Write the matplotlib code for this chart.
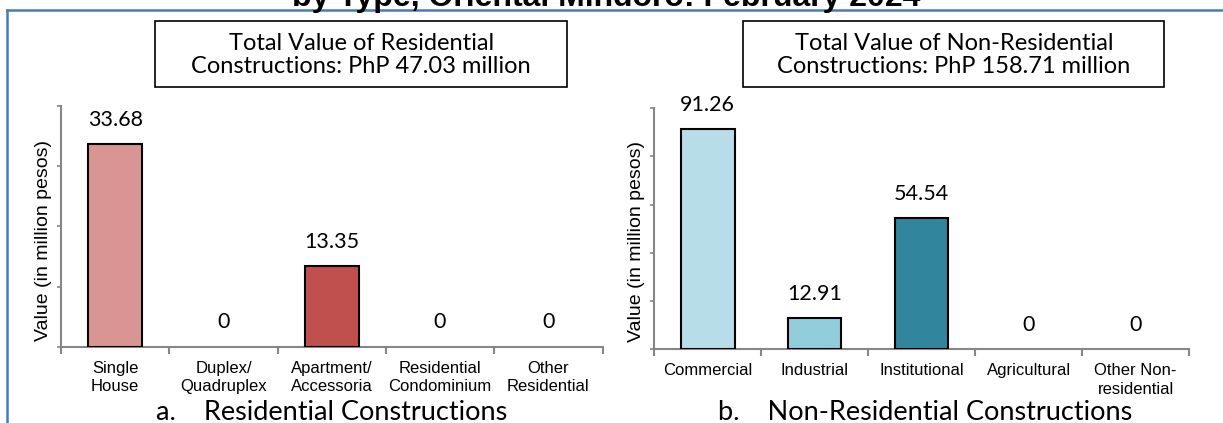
import matplotlib
matplotlib.use("Agg")
import matplotlib.pyplot as plt
from matplotlib.patches import Rectangle
from matplotlib.lines import Line2D

# residential data
res_types = ["Single\nHouse", "Duplex/\nQuadruplex", "Apartment/\nAccessoria",
             "Residential\nCondominium", "Other\nResidential"]
res_values = [33.68, 0, 13.35, 0, 0]
res_colors = ["#d99594", "#d99594", "#c0504d", "#c0504d", "#c0504d"]

# non-residential data
nonres_types = ["Commercial", "Industrial", "Institutional", "Agricultural",
                "Other Non-\nresidential"]
nonres_values = [91.26, 12.91, 54.54, 0, 0]
nonres_colors = ["#b7dde8", "#92cddc", "#31859c", "#31859c", "#31859c"]

res_total = "Total Value of Residential\nConstructions: PhP 47.03 million"
nonres_total = "Total Value of Non-Residential\nConstructions: PhP 158.71 million"

W, H = 1223, 423
fig = plt.figure(figsize=(W / 100, H / 100), dpi=100)

CAL = "Lato"
ARI = "Liberation Sans"


def px(x, y):
    # pixel position -> figure fraction
    return x / W, 1 - y / H


def draw_panel(rect, cats, vals, colors, ymax, step, total, box, sub, subx, ylab_pos):
    ax = fig.add_axes(rect)
    x = range(len(cats))
    edges = ["black" if v > 0 else "none" for v in vals]
    ax.bar(x, vals, width=0.5, color=colors, edgecolor=edges, linewidth=1.5, zorder=3)
    for i, v in zip(x, vals):
        ax.annotate(f"{v:g}" if v == 0 else f"{v:.2f}", (i, v), xytext=(0, 17.5),
                    textcoords="offset points", ha="center", va="center",
                    fontsize=15.5, family=CAL)
    ax.set_xlim(-0.5, len(cats) - 0.5)
    ax.set_ylim(0, ymax)
    ax.set_yticks(range(0, ymax + 1, step))
    ax.set_yticklabels([])
    ax.set_xticks(list(x))
    ax.set_xticklabels(cats, fontsize=12, family=ARI, linespacing=1.3)
    ax.set_xticks([i - 0.5 for i in range(len(cats) + 1)], minor=True)
    ax.tick_params(axis="x", which="major", length=0, pad=10)
    ax.tick_params(axis="x", which="minor", length=5, width=1.5, color="#868686")
    ax.tick_params(axis="y", length=3, width=1.2, color="#868686")
    for s in ["top", "right"]:
        ax.spines[s].set_visible(False)
    for s in ["left", "bottom"]:
        ax.spines[s].set_color("#868686")
        ax.spines[s].set_linewidth(1.5)
    ax.set_ylabel("Value (in million pesos)", fontsize=14, family=ARI, va="center")
    ax.yaxis.set_label_coords(*ylab_pos)

    # total value box
    x0, y0, x1, y1 = box
    fx0, fy1 = px(x0, y0)
    fx1, fy0 = px(x1, y1)
    fig.patches.append(Rectangle((fx0, fy0), fx1 - fx0, fy1 - fy0, transform=fig.transFigure,
                                 fill=False, edgecolor="black", linewidth=1.2))
    cx = (x0 + x1) / 2
    l1, l2 = total.split("\n")
    fig.text(*px(cx, 43.5), l1, ha="center", va="center", fontsize=17, family=CAL)
    fig.text(*px(cx, 66.5), l2, ha="center", va="center", fontsize=17, family=CAL)

    fig.text(*px(subx, 420), sub, ha="left", va="baseline", fontsize=19.5, family=CAL)
    return ax


draw_panel([61 / W, 1 - 346.7 / H, 541.5 / W, 240.7 / H], res_types, res_values,
           res_colors, 40, 10, res_total, (155, 21, 567.3, 87.3),
           "a.    Residential Constructions", 156, (-0.033, 0.44))
draw_panel([654.3 / W, 1 - 349.3 / H, 534.7 / W, 241 / H], nonres_types, nonres_values,
           nonres_colors, 100, 20, nonres_total, (743.3, 21, 1164.3, 87.3),
           "b.    Non-Residential Constructions", 718, (-0.033, 0.447))

# cropped title at top
fig.text(*px(606, 6), "by Type, Oriental Mindoro: February 2024", ha="center",
         va="baseline", fontsize=23, fontweight="bold", family=ARI)

# blue frame
fig.add_artist(Line2D([7.3 / W, 1], [1 - 10.3 / H] * 2, transform=fig.transFigure,
                      color="#4a7ab5", linewidth=1.8))
fig.add_artist(Line2D([7.3 / W] * 2, [0, 1 - 10.3 / H], transform=fig.transFigure,
                      color="#4a7ab5", linewidth=1.8))

fig.savefig("out.png", dpi=100)
